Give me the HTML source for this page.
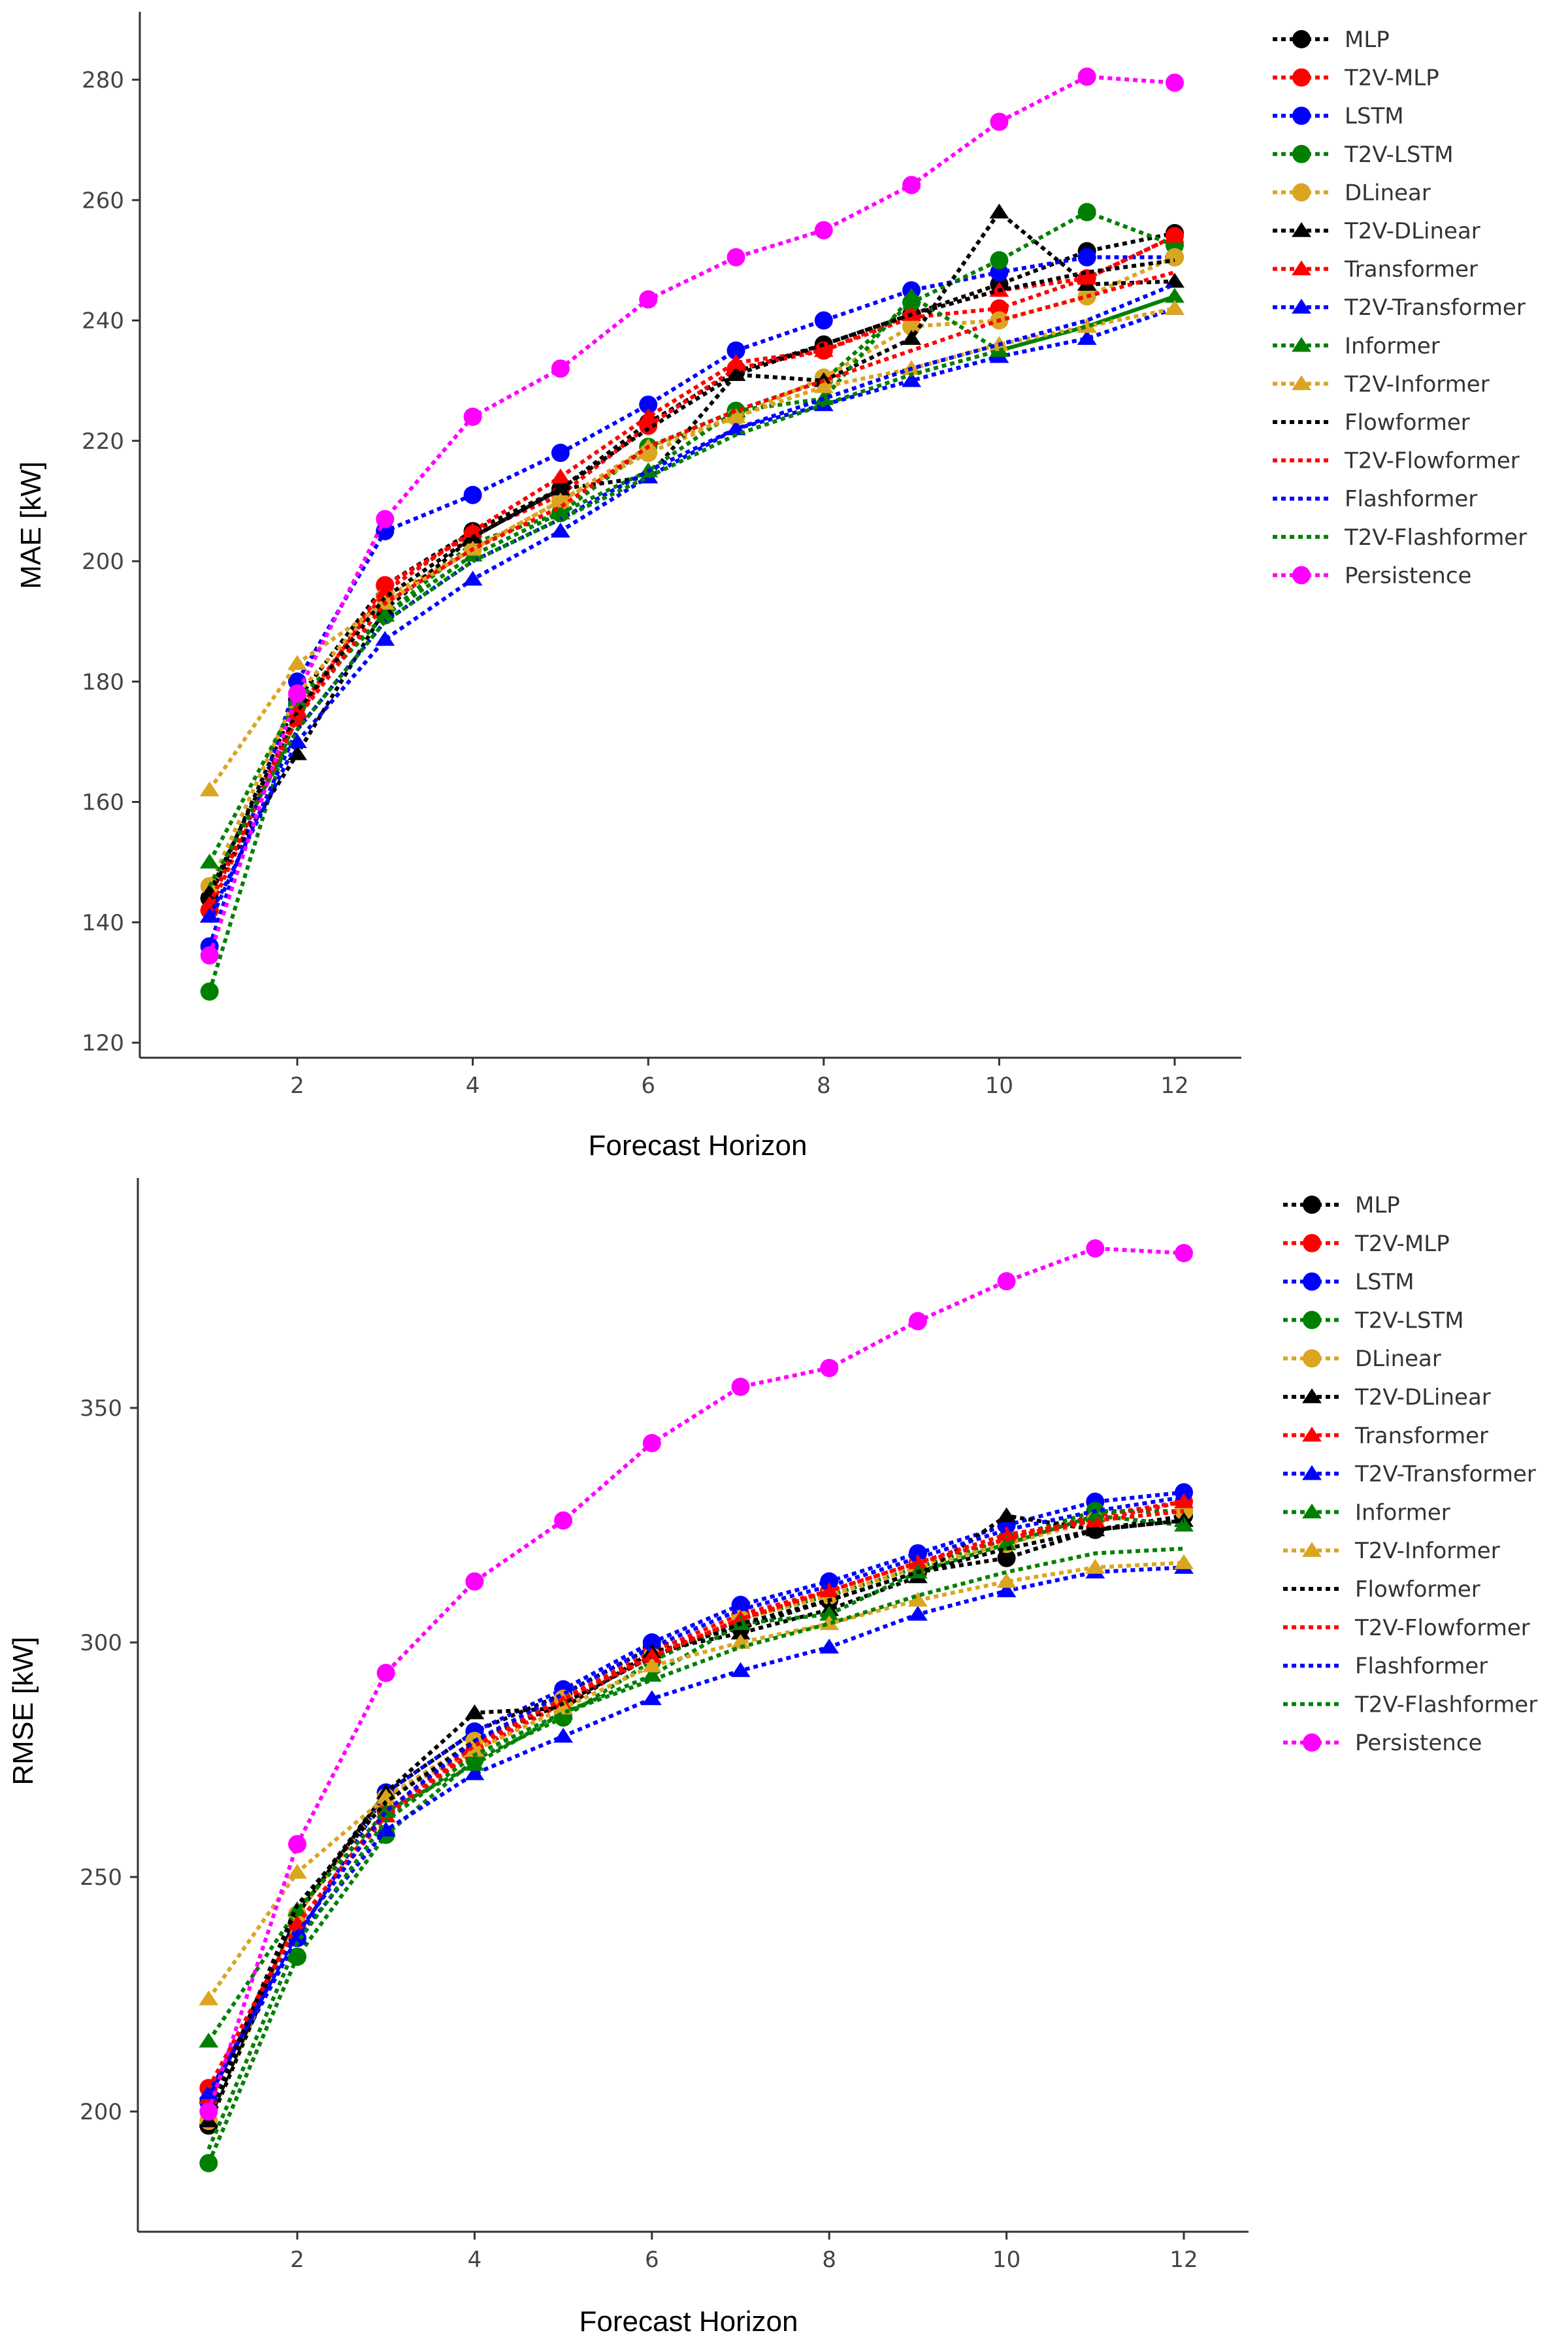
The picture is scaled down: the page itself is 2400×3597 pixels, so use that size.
<!DOCTYPE html>
<html><head><meta charset="utf-8">
<style>
html,body{margin:0;padding:0;background:#fff;}
svg{display:block;}
text{font-family:"Liberation Sans","DejaVu Sans",sans-serif;}
text.dv{font-family:"DejaVu Sans","Liberation Sans",sans-serif;}
</style></head>
<body>
<svg id="chart" width="2400" height="3597" viewBox="0 0 2400 3597" xmlns="http://www.w3.org/2000/svg"></svg>
<script>
const horizons = [1,2,3,4,5,6,7,8,9,10,11,12];
const seriesNames = ["MLP","T2V-MLP","LSTM","T2V-LSTM","DLinear","T2V-DLinear","Transformer","T2V-Transformer","Informer","T2V-Informer","Flowformer","T2V-Flowformer","Flashformer","T2V-Flashformer","Persistence"];
const seriesColors = ["#000","#f00","#00f","#008000","#daa520","#000","#f00","#00f","#008000","#daa520","#000","#f00","#00f","#008000","#f0f"];
const seriesMarkers = ["circle","circle","circle","circle","circle","tri","tri","tri","tri","tri","none","none","none","none","circle"];
const maeTicks = [120,140,160,180,200,220,240,260,280];
const rmseTicks = [200,250,300,350];
const xTicks = [2,4,6,8,10,12];

const maeMLP = [144,177,196,205,212,223,231.5,236,241,246,251.5,254.5];
const maeT2VMLP = [142,174,196,204.5,211,222.5,232,235,240.5,242,247,254];
const maeLSTM = [136,180,205,211,218,226,235,240,245,248,250.5,250.5];
const maeT2VLSTM = [128.5,176,191,203,208,219,225,230,243,250,258,252.5];
const maeDLinear = [146,178,194,202,210,218,224,230.5,239,240,244,250.5];
const maeT2VDLinear = [145,168,192,204,212,214,231,230,237,258,246,246.5];
const maeTransformer = [143,175,195,205,214,224,233,235,241,245,247,254];
const maeT2VTransformer = [141,170,187,197,205,214,222,226,230,234,237,242];
const maeInformer = [150,177,191,201,208,215,225,227,244,235,239,244];
const maeT2VInformer = [162,183,193,202,210,219,224,229,232,236,239,242];
const maeFlowformer = [145,175,194,204,212,222,231,236,241,245,248,250];
const maeT2VFlowformer = [143,174,193,202,209,219,225,230,235,240,244,248];
const maeFlashformer = [140,172,190,200,207,215,222,227,232,236,240,246];
const maeT2VFlashformer = [146,172,190,200,207,214,221,226,231,235,239,244];
const maePersistence = [134.5,178,207,224,232,243.5,250.5,255,262.5,273,280.5,279.5];

const rmseMLP = [197,242,268,281,289,299,303,309,315,318,324,327];
const rmseT2VMLP = [205,240,264,277,288,298,306,311,317,322,327,330];
const rmseLSTM = [202,237,268,281,290,300,308,313,319,325,330,332];
const rmseT2VLSTM = [189,233,259,275,284,296,305,310,316,322,328,328];
const rmseDLinear = [198,242,267,279,288,297,305,310,316,321,326,328];
const rmseT2VDLinear = [198,243,268,285,286,298,302,307,314,327,324,326];
const rmseTransformer = [203,240,263,277,287,297,305,311,317,323,326,330];
const rmseT2VTransformer = [204,237,260,272,280,288,294,299,306,311,315,316];
const rmseInformer = [215,243,264,274,285,293,304,306,315,321,327,325];
const rmseT2VInformer = [224,251,267,277,286,295,300,304,309,313,316,317];
const rmseFlowformer = [200,244,266,279,287,297,304,309,315,320,324,326];
const rmseT2VFlowformer = [205,240,264,278,288,297,305,311,317,322,326,328];
const rmseFlashformer = [203,238,264,279,289,299,307,312,318,324,328,331];
const rmseT2VFlashformer = [192,236,262,276,285,292,299,304,310,315,319,320];
const rmsePersistence = [200,257,293.5,313,326,342.5,354.5,358.5,368.5,377,384,383];

const maeSeries = [maeMLP,maeT2VMLP,maeLSTM,maeT2VLSTM,maeDLinear,maeT2VDLinear,maeTransformer,maeT2VTransformer,maeInformer,maeT2VInformer,maeFlowformer,maeT2VFlowformer,maeFlashformer,maeT2VFlashformer,maePersistence];
const rmseSeries = [rmseMLP,rmseT2VMLP,rmseLSTM,rmseT2VLSTM,rmseDLinear,rmseT2VDLinear,rmseTransformer,rmseT2VTransformer,rmseInformer,rmseT2VInformer,rmseFlowformer,rmseT2VFlowformer,rmseFlashformer,rmseT2VFlashformer,rmsePersistence];

const NS = "http://www.w3.org/2000/svg";
const svg = document.getElementById("chart");
function mk(tag, attrs, parent){
  const e = document.createElementNS(NS, tag);
  for (const k in attrs) e.setAttribute(k, attrs[k]);
  (parent||svg).appendChild(e);
  return e;
}
function marker(g, kind, cx, cy, color){
  let m;
  if (kind === "circle") {
    m = mk("circle", {cx:cx, cy:cy, r:14, fill:color}, g);
  } else if (kind === "tri") {
    const s = 13;
    m = mk("polygon", {points:`${cx},${cy-s} ${cx+s*1.15},${cy+s*0.75} ${cx-s*1.15},${cy+s*0.75}`, fill:color}, g);
  }
  return m;
}
function drawChart(cfg){
  const g = mk("g", {});
  
  
  const xs = v => cfg.x2 + (v-2)*(cfg.x12-cfg.x2)/10;
  const ys = v => cfg.yA + (v-cfg.vA)*(cfg.yB-cfg.yA)/(cfg.vB-cfg.vA);
  const yAxis = mk("line", {x1:cfg.axX, y1:cfg.top, x2:cfg.axX, y2:cfg.bottom, stroke:"#333", "stroke-width":3}, g);
  
  
  const xAxis = mk("line", {x1:cfg.axX, y1:cfg.bottom, x2:cfg.right, y2:cfg.bottom, stroke:"#333", "stroke-width":3}, g);
  
  
  cfg.yTicks.forEach(t => {
    const y = ys(t);
    mk("line", {x1:cfg.axX-12, y1:y, x2:cfg.axX, y2:y, stroke:"#333", "stroke-width":3}, g);
    const tx = mk("text", {class:"dv", x:cfg.axX-24, y:y+12, "text-anchor":"end", "font-size":34, fill:"#444"}, g);
    tx.textContent = t;
    
    
  });
  xTicks.forEach(t => {
    const x = xs(t);
    mk("line", {x1:x, y1:cfg.bottom, x2:x, y2:cfg.bottom+12, stroke:"#333", "stroke-width":3}, g);
    const tx = mk("text", {class:"dv", x:x, y:cfg.bottom+54, "text-anchor":"middle", "font-size":34, fill:"#444"}, g);
    tx.textContent = t;
    
    
  });
  const xt = mk("text", {x:cfg.xTitleX, y:cfg.xTitleY, "text-anchor":"middle", "font-size":44, fill:"#000"}, g);
  xt.textContent = "Forecast Horizon";
  
  
  const yt = mk("text", {x:0, y:0, "text-anchor":"middle", "font-size":44, fill:"#000", transform:`translate(${cfg.yTitleX},${cfg.yTitleY}) rotate(-90)`}, g);
  yt.textContent = cfg.yTitle;
  
  
  cfg.series.forEach((vals, i) => {
    const sg = mk("g", {}, g);
    
    
    const pts = vals.map((v,j) => xs(horizons[j]) + "," + ys(v)).join(" ");
    mk("polyline", {points:pts, fill:"none", stroke:seriesColors[i], "stroke-width":6, "stroke-dasharray":"7,6"}, sg);
    vals.forEach((v,j) => {
      const m = marker(sg, seriesMarkers[i], xs(horizons[j]), ys(v), seriesColors[i]);
      if (m) {
        
        
      }
    });
  });
  seriesNames.forEach((n, i) => {
    const y = cfg.legY + i*cfg.legStep;
    const lg = mk("g", {}, g);
    
    
    mk("line", {x1:cfg.legX, y1:y, x2:cfg.legX+87, y2:y, stroke:seriesColors[i], "stroke-width":6, "stroke-dasharray":"7,6"}, lg);
    marker(lg, seriesMarkers[i], cfg.legX+44, y, seriesColors[i]);
    const tx = mk("text", {class:"dv", x:cfg.legX+110, y:y+12, "font-size":34, fill:"#333"}, lg);
    tx.textContent = n;
  });
}
drawChart({prefix:"mae", series:maeSeries, yTicks:maeTicks, vA:280, yA:122, vB:120, yB:1596,
  x2:455, x12:1798, axX:214, top:18, bottom:1619, right:1900,
  xTitleX:1068, xTitleY:1768, yTitle:"MAE [kW]", yTitleX:62, yTitleY:804,
  legX:1948, legY:60, legStep:58.6});
drawChart({prefix:"rmse", series:rmseSeries, yTicks:rmseTicks, vA:350, yA:2155, vB:200, yB:3232,
  x2:455, x12:1812, axX:211, top:1803, bottom:3416, right:1911,
  xTitleX:1054, xTitleY:3568, yTitle:"RMSE [kW]", yTitleX:50, yTitleY:2619,
  legX:1964, legY:1844, legStep:58.8});
</script>
</body></html>
